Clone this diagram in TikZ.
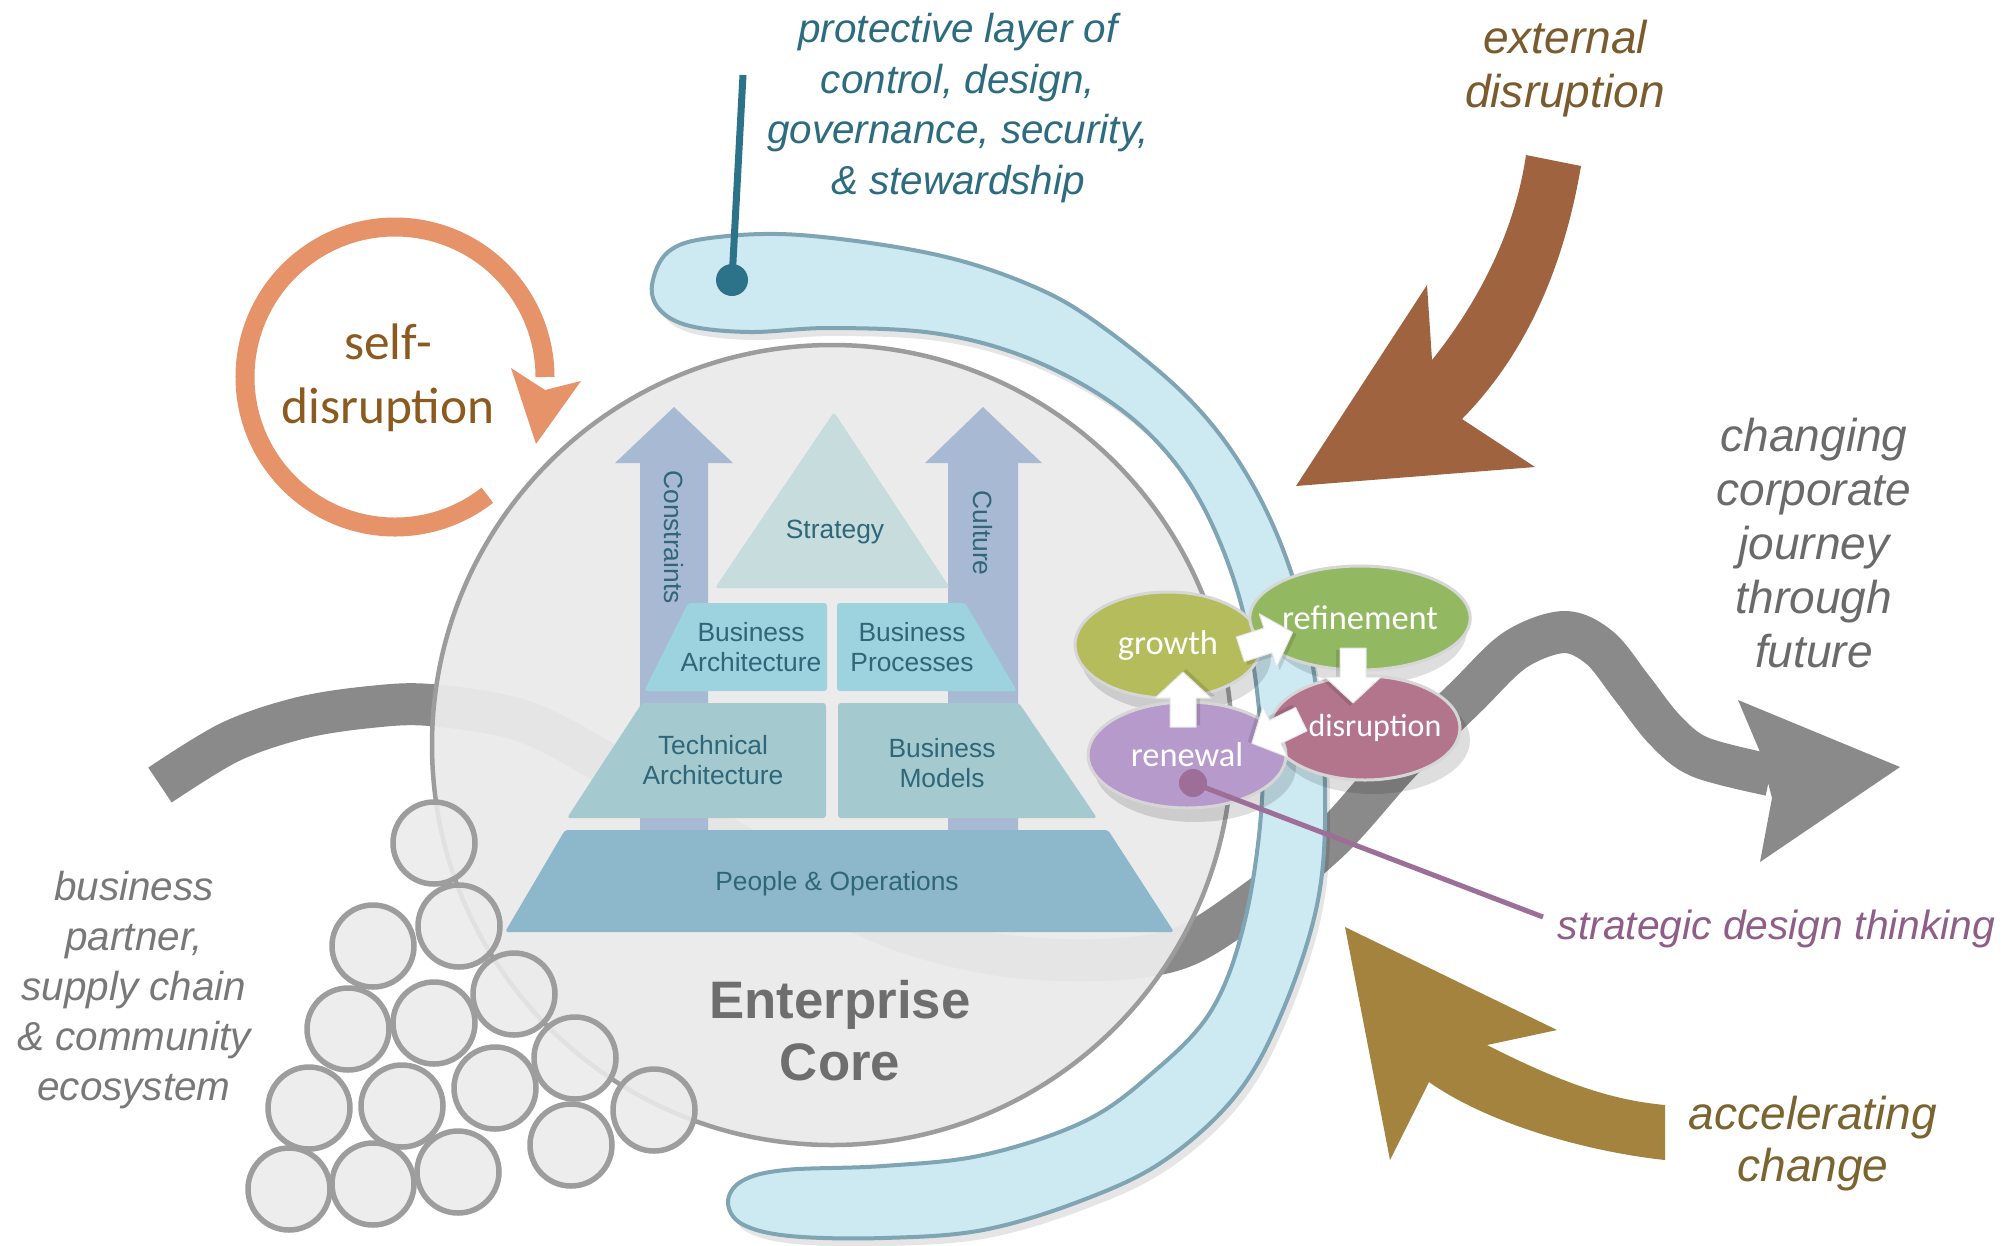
\documentclass[tikz,border=0pt]{standalone}
\usepackage{fontspec}
\setmainfont{Liberation Sans}
\newfontfamily\gillfont{Carlito}
\usetikzlibrary{shapes.geometric}
\newdimen\px
\px=0.01cm

\definecolor{coreFill}{HTML}{EAEAEA}
\definecolor{coreLine}{HTML}{9C9C9C}
\definecolor{journey}{HTML}{8A8A8A}
\definecolor{bandFill}{HTML}{CDE9F1}
\definecolor{bandLine}{HTML}{7FA4B3}
\definecolor{tealDot}{HTML}{2C7389}
\definecolor{protText}{HTML}{2D6C7F}
\definecolor{selfArr}{HTML}{E6936A}
\definecolor{selfText}{HTML}{8C5A1E}
\definecolor{extArr}{HTML}{A0633F}
\definecolor{extText}{HTML}{7A5B2E}
\definecolor{accArr}{HTML}{A4833F}
\definecolor{accText}{HTML}{7A6430}
\definecolor{greyText}{HTML}{6A6A6A}
\definecolor{partnerText}{HTML}{787878}
\definecolor{sdtLine}{HTML}{9D6E97}
\definecolor{sdtText}{HTML}{8F5E88}
\definecolor{strat}{HTML}{C6DCDD}
\definecolor{layerA}{HTML}{9CD3DE}
\definecolor{layerB}{HTML}{A4C9CE}
\definecolor{layerC}{HTML}{8DB7CB}
\definecolor{upArr}{HTML}{A8BAD3}
\definecolor{pyrText}{HTML}{2F6678}
\definecolor{ringLine}{HTML}{9D9D9D}
\definecolor{ringFill}{HTML}{EBEBEB}
\definecolor{growthC}{HTML}{B4BC5C}
\definecolor{refineC}{HTML}{93B862}
\definecolor{disruptC}{HTML}{B3758C}
\definecolor{renewC}{HTML}{B59ACB}
\definecolor{phaseRim}{HTML}{D6D6D6}
\definecolor{coreText}{HTML}{6E6E6E}

\tikzset{
  txt/.style={align=center, inner sep=0pt},
  pyr/.style={rounded corners=3\px},
  pyrlabel/.style={txt, text=pyrText, font=\fontsize{7.5}{8.6}\selectfont},
  ring/.style={draw=ringLine, line width=5.5\px, fill=ringFill, fill opacity=0.88},
  phase/.style={ellipse, inner sep=0pt, draw=phaseRim, line width=3\px, text=white,
                font=\gillfont\fontsize{9.8}{11}\selectfont},
  phaseshadow/.style={black, opacity=0.13},
  flowarrow/.pic={
    \fill[black, opacity=0.12] (-25,-11) -- (4,-11) -- (4,-26) -- (31,3) -- (4,32) -- (4,17) -- (-25,17) -- cycle;
    \fill[white, draw=black!10, line width=1\px] (-27,-13) -- (2,-13) -- (2,-28) -- (28,0) -- (2,28) -- (2,13) -- (-27,13) -- cycle;
  },
}

\begin{document}
\begin{tikzpicture}[x=0.01cm, y=-0.01cm, line join=round]
\useasboundingbox (0,0) rectangle (2003,1245);
\fill[white] (0,0) rectangle (2003,1245);

% the corporate journey: grey path running through the core
\draw[journey, line width=42\px] plot[smooth, tension=0.55] coordinates {
  (160,785) (230,742) (300,718) (370,707) (430,705) (520,720) (600,760)
  (700,822) (800,882) (900,930) (1000,955) (1100,960) (1180,948) (1250,905)
  (1330,840) (1400,762) (1466,697) (1515,650) (1564,632) (1600,648)
  (1632,688) (1665,730) (1700,757) (1770,775)};
\fill[journey] (1738,700) -- (1900,767) -- (1760,862) -- (1772,798) -- (1760,752) -- cycle;

% enterprise core
\draw[draw=coreLine, line width=4.5\px, fill=coreFill, fill opacity=0.95] (832,745) circle[radius=400];

% self-disruption loop
\draw[selfArr, line width=19\px] (395,377) ++(52:150) arc[start angle=52, end angle=360, radius=150];
\fill[selfArr] (511,368) -- (545,390) -- (581,381) -- (536,444) -- cycle;

% protective layer: shadow, then band
\begin{scope}[shift={(5,8)}]
\fill[black, opacity=0.10] plot[smooth cycle, tension=0.6] coordinates {
  (652,285) (668,252) (710,238) (800,235) (933,254) (1030,285) (1100,325)
  (1190,400) (1250,480) (1292,575) (1315,680) (1325,790) (1318,900)
  (1283,1010) (1237,1094) (1165,1160) (1083,1200) (983,1230) (883,1238)
  (790,1236) (742,1224) (728,1202) (742,1181) (785,1170) (883,1166)
  (983,1155) (1083,1122) (1150,1075) (1211,1011) (1245,920) (1262,800)
  (1258,700) (1240,600) (1205,510) (1160,445) (1100,395) (1020,355)
  (933,333) (830,328) (750,332) (690,326) (660,310)};
\end{scope}
\draw[fill=bandFill, draw=bandLine, line width=4\px] plot[smooth cycle, tension=0.6] coordinates {
  (652,285) (668,252) (710,238) (800,235) (933,254) (1030,285) (1100,325)
  (1190,400) (1250,480) (1292,575) (1315,680) (1325,790) (1318,900)
  (1283,1010) (1237,1094) (1165,1160) (1083,1200) (983,1230) (883,1238)
  (790,1236) (742,1224) (728,1202) (742,1181) (785,1170) (883,1166)
  (983,1155) (1083,1122) (1150,1075) (1211,1011) (1245,920) (1262,800)
  (1258,700) (1240,600) (1205,510) (1160,445) (1100,395) (1020,355)
  (933,333) (830,328) (750,332) (690,326) (660,310)};

% leader of the protective layer
\coordinate (protTop) at (743,75);
\node[circle, fill=tealDot, minimum size=32\px, inner sep=0pt] (protDot) at (732,280) {};
\draw[tealDot, line width=7\px] (protTop) -- (protDot.center);

% upward arrows behind the pyramid
\fill[upArr] (640,830) -- (640,463) -- (615,463) -- (674,407) -- (733,463) -- (708,463) -- (708,830) -- cycle;
\fill[upArr] (948,830) -- (948,463) -- (925,463) -- (983,407) -- (1042,463) -- (1018,463) -- (1018,830) -- cycle;
\node[pyrlabel, rotate=-90] (constraints) at (674,537) {Constraints};
\node[pyrlabel, rotate=-90] (culture) at (983,533) {Culture};

% pyramid layers
\fill[strat, pyr] (834,412) -- (950,588) -- (715,588) -- cycle;
\fill[layerA, pyr] (688,603) -- (827,603) -- (827,691) -- (644,691) -- cycle;
\fill[layerA, pyr] (837,603) -- (965,603) -- (1017,691) -- (837,691) -- cycle;
\fill[layerB, pyr] (642,703) -- (826,703) -- (826,818) -- (567,818) -- cycle;
\fill[layerB, pyr] (838,703) -- (1019,703) -- (1097,818) -- (838,818) -- cycle;
\fill[layerC, pyr] (565,830) -- (1108,830) -- (1174,932) -- (505,932) -- cycle;

\node[pyrlabel] (strategy) at (835,532) {Strategy};
\node[pyrlabel] (busarch) at (751,647) {Business\\Architecture};
\node[pyrlabel] (busproc) at (912,647) {Business\\Processes};
\node[pyrlabel] (techarch) at (713,760) {Technical\\Architecture};
\node[pyrlabel] (busmod) at (942,763) {Business\\Models};
\node[pyrlabel] (peopleops) at (837,884) {People \& Operations};

\node[txt, text=coreText, font=\bfseries\fontsize{15}{17.6}\selectfont] (coreName) at (840,1031) {Enterprise\\Core};

% ecosystem of partners
\foreach \cx/\cy in {434/843, 459/926, 373/946, 514/994, 434/1023, 348/1029,
                     575/1058, 495/1088, 402/1106, 309/1108, 654/1110,
                     571/1145, 458/1172, 373/1184, 289/1189}
  \draw[ring] (\cx,\cy) circle[radius=41];

% design-thinking cycle: shadows, phases, flow arrows
\fill[phaseshadow] (1176,657) ellipse[x radius=95, y radius=55];
\fill[phaseshadow] (1368,630) ellipse[x radius=99, y radius=54];
\fill[phaseshadow] (1373,740) ellipse[x radius=97, y radius=54];
\fill[phaseshadow] (1195,767) ellipse[x radius=101, y radius=55];

\node[phase, fill=growthC, minimum width=186\px, minimum height=106\px] (growth) at (1168,645) {growth};
\node[phase, fill=refineC, minimum width=194\px, minimum height=104\px] (refinement) at (1360,618) {refinement};
\node[phase, fill=disruptC, minimum width=190\px, minimum height=104\px,
      font=\gillfont\fontsize{9.1}{11}\selectfont] (disruption) at (1365,728) {\makebox[0pt]{\hspace*{20\px}disruption}};
\node[phase, fill=renewC, minimum width=198\px, minimum height=106\px] (renewal) at (1187,755) {renewal};

\pic[rotate=18] at (1266,641) {flowarrow};
\pic[rotate=-90] at (1353,675) {flowarrow};
\pic[rotate=206] at (1277,731) {flowarrow};
\pic[rotate=90] at (1183,700) {flowarrow};

% strategic design thinking leader
\node[circle, fill=sdtLine, minimum size=28\px, inner sep=0pt] (sdtDot) at (1193,783) {};
\node[anchor=west, inner sep=0pt, text=sdtText, font=\itshape\fontsize{11.6}{14}\selectfont] (sdt) at (1557,929) {strategic design thinking};
\draw[sdtLine, line width=5\px] (sdtDot.center) -- ([xshift=-14\px, yshift=12\px]sdt.west);

% external disruption arrow
\fill[extArr] (1526,155) -- (1581,166) .. controls (1565,260) and (1530,350) .. (1462,419)
  -- (1535,467) -- (1296,486) -- (1427,285) -- (1432,360)
  .. controls (1480,300) and (1515,230) .. (1526,155) -- cycle;

% accelerating change arrow
\fill[accArr] (1345,927) -- (1557,1030) -- (1487,1045) .. controls (1560,1082) and (1610,1100) .. (1665,1105)
  -- (1665,1160) .. controls (1590,1152) and (1490,1125) .. (1429,1082) -- (1390,1160) -- cycle;

% labels
\node[txt, text=protText, font=\itshape\fontsize{11.5}{14.4}\selectfont] (protLabel) at (958,108)
  {protective layer of\\control, design,\\governance, security,\\\& stewardship};
\node[txt, text=extText, font=\itshape\fontsize{13.1}{15.4}\selectfont] (extLabel) at (1565,69)
  {external\\disruption};
\node[txt, text=greyText, font=\itshape\fontsize{13.1}{15.4}\selectfont] (journeyLabel) at (1814,543)
  {changing\\corporate\\journey\\through\\future};
\node[txt, text=partnerText, font=\itshape\fontsize{11.5}{14.2}\selectfont] (partnerLabel) at (134,990)
  {business\\partner,\\supply chain\\\& community\\ecosystem};
\node[txt, text=accText, font=\itshape\fontsize{13.1}{14.8}\selectfont] (accLabel) at (1813,1144)
  {accelerating\\change};
\node[txt, text=selfText, font=\gillfont\fontsize{14.6}{18.2}\selectfont] (selfLabel) at (388,378)
  {self-\\disruption};
\end{tikzpicture}
\end{document}
